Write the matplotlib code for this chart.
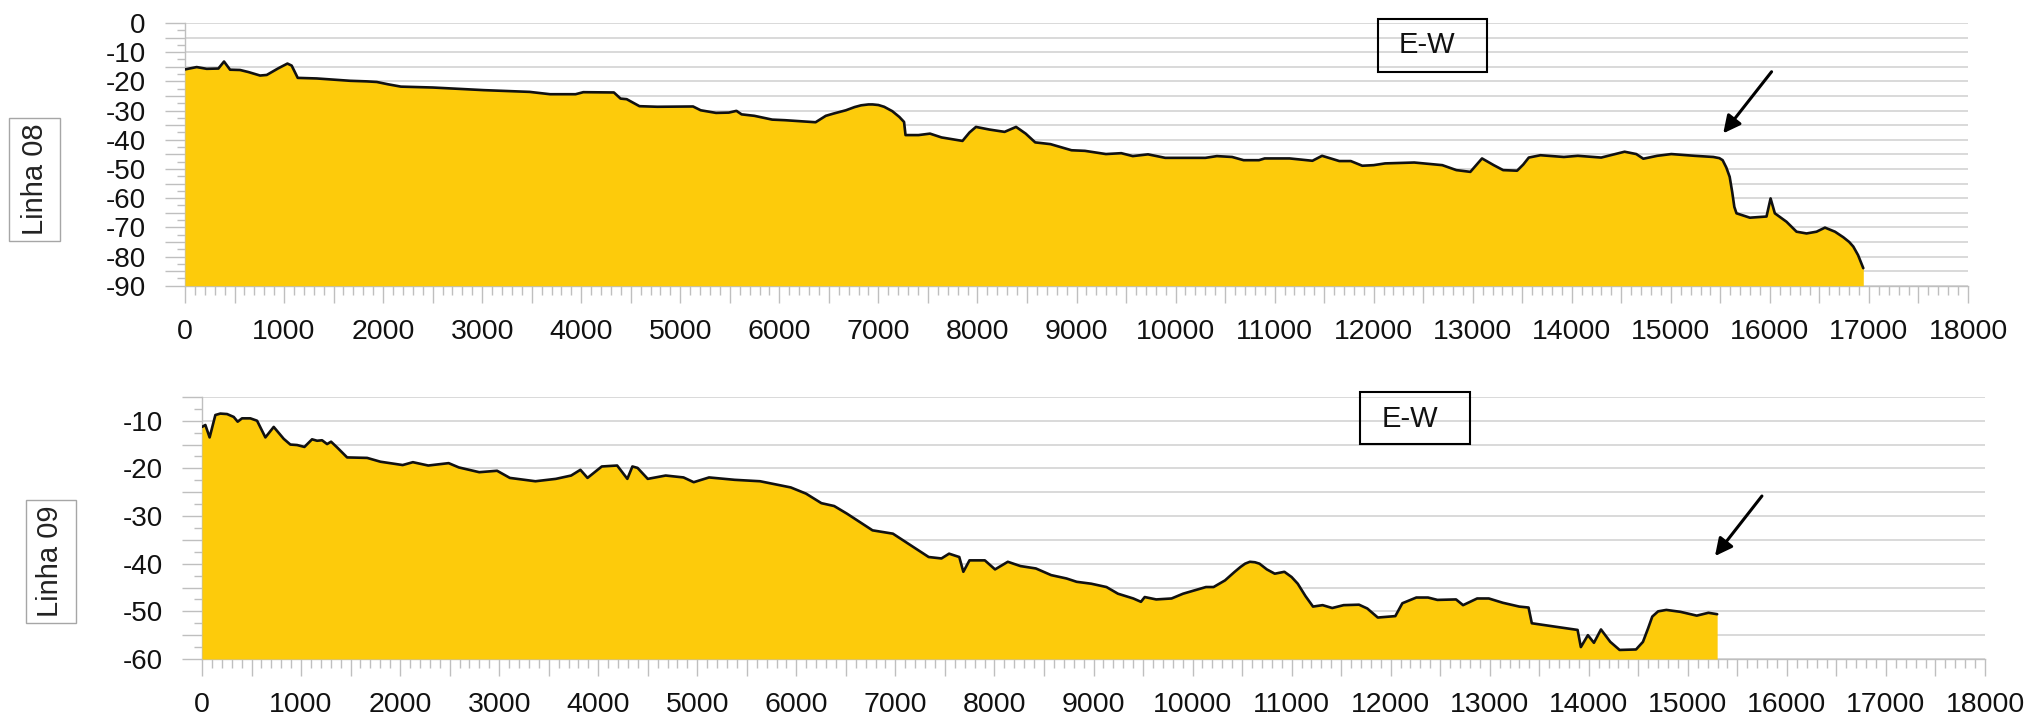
import matplotlib
matplotlib.use("Agg")
import matplotlib.pyplot as plt
from matplotlib.ticker import MultipleLocator, FuncFormatter
from matplotlib.patches import Rectangle

plt.rcParams['font.family'] = ['Liberation Sans', 'DejaVu Sans']
plt.rcParams['axes.unicode_minus'] = False

# ---------------- data ----------------
dist_08 = [0, 118, 219, 337, 394, 455, 556, 640, 758, 825, 943, 1034, 1077, 1138, 1330, 1498,
           1667, 1835, 1936, 2050, 2180, 2500, 3016, 3479, 3686, 3943, 4021, 4330, 4397, 4459,
           4588, 4768, 5129, 5206, 5361, 5490, 5567, 5619, 5748, 5928, 6057, 6366, 6469, 6550,
           6672, 6760, 6826, 6900, 6942, 7000, 7058, 7140, 7212, 7259, 7274, 7405, 7521, 7637,
           7849, 7920, 7985, 8120, 8274, 8390, 8487, 8583, 8737, 8950, 9085, 9297, 9452, 9568,
           9722, 9896, 10301, 10417, 10571, 10687, 10842, 10900, 11151, 11382, 11479, 11653,
           11769, 11885, 12000, 12116, 12410, 12693, 12835, 12976, 13040, 13094, 13212, 13307,
           13448, 13510, 13566, 13684, 13920, 14061, 14297, 14533, 14651, 14722, 14863, 15005,
           15240, 15429, 15490, 15523, 15560, 15594, 15620, 15641, 15663, 15798, 15966, 16007,
           16050, 16168, 16269, 16370, 16471, 16556, 16657, 16741, 16800, 16842, 16890, 16943]
depth_08 = [-15.9, -15.1, -15.7, -15.6, -13.2, -16.0, -16.1, -16.8, -18.0, -17.8, -15.5, -13.9,
            -14.6, -18.8, -19.0, -19.4, -19.8, -20.0, -20.2, -21.0, -21.8, -22.1, -23.0, -23.6,
            -24.4, -24.4, -23.7, -23.8, -25.9, -26.1, -28.5, -28.7, -28.6, -29.9, -30.8, -30.7,
            -30.1, -31.3, -31.8, -33.1, -33.3, -34.0, -31.8, -31.0, -29.9, -28.8, -28.2, -27.9,
            -27.9, -28.1, -28.7, -30.2, -32.2, -33.9, -38.4, -38.4, -37.9, -39.2, -40.4, -37.5,
            -35.6, -36.5, -37.3, -35.6, -37.9, -40.9, -41.5, -43.6, -43.8, -44.9, -44.6, -45.6,
            -45.0, -46.2, -46.2, -45.6, -45.9, -47.0, -47.0, -46.4, -46.4, -47.2, -45.5, -47.3,
            -47.3, -48.9, -48.7, -48.1, -47.8, -48.7, -50.4, -51.0, -48.5, -46.4, -48.7, -50.4,
            -50.6, -48.5, -46.1, -45.3, -45.9, -45.5, -46.1, -44.1, -44.9, -46.5, -45.5, -44.9,
            -45.5, -45.9, -46.3, -47.0, -49.5, -52.7, -58.0, -63.0, -65.2, -66.7, -66.3, -60.1,
            -65.2, -68.1, -71.5, -72.1, -71.5, -70.1, -71.5, -73.4, -75.0, -76.6, -79.5, -84.0]

dist_09 = [0, 34, 77, 135, 185, 253, 320, 360, 404, 488, 556, 640, 724, 825, 892, 960, 1034,
           1111, 1162, 1212, 1263, 1303, 1364, 1465, 1667, 1801, 2026, 2129, 2284, 2490, 2593,
           2799, 2979, 3108, 3366, 3572, 3727, 3820, 3892, 4036, 4191, 4294, 4345, 4397, 4500,
           4681, 4861, 4964, 5119, 5377, 5634, 5944, 6098, 6253, 6382, 6511, 6769, 6975, 7181,
           7336, 7465, 7542, 7645, 7686, 7748, 7903, 8006, 8135, 8263, 8418, 8573, 8727, 8830,
           8977, 9131, 9247, 9402, 9479, 9517, 9633, 9788, 9904, 10020, 10135, 10212, 10328,
           10420, 10483, 10530, 10579, 10630, 10676, 10750, 10830, 10927, 11000, 11062, 11140,
           11216, 11313, 11410, 11525, 11680, 11764, 11870, 12047, 12118, 12259, 12377, 12472,
           12660, 12731, 12873, 12991, 13132, 13298, 13392, 13425, 13887, 13920, 13991, 14052,
           14123, 14217, 14311, 14477, 14547, 14600, 14641, 14700, 14783, 14925, 15090, 15208,
           15296]
depth_09 = [-11.3, -10.9, -13.5, -8.8, -8.5, -8.6, -9.2, -10.2, -9.5, -9.5, -10.0, -13.5, -11.3,
            -13.8, -15.0, -15.1, -15.5, -13.9, -14.2, -14.1, -14.9, -14.4, -15.6, -17.7, -17.8,
            -18.6, -19.3, -18.7, -19.4, -18.9, -19.8, -20.8, -20.5, -22.0, -22.7, -22.2, -21.5,
            -20.3, -22.0, -19.6, -19.4, -22.2, -19.6, -19.9, -22.2, -21.5, -21.9, -22.9, -21.9,
            -22.4, -22.7, -24.0, -25.3, -27.3, -27.9, -29.5, -33.0, -33.7, -36.5, -38.6, -38.9,
            -37.9, -38.6, -41.7, -39.3, -39.3, -41.2, -39.6, -40.5, -41.0, -42.4, -43.1, -43.8,
            -44.2, -44.9, -46.3, -47.3, -48.0, -47.0, -47.5, -47.3, -46.3, -45.6, -44.9, -44.9,
            -43.5, -41.8, -40.7, -40.0, -39.6, -39.7, -40.0, -41.2, -42.1, -41.7, -42.8, -44.2,
            -46.8, -49.0, -48.7, -49.3, -48.7, -48.6, -49.4, -51.3, -51.0, -48.3, -47.1, -47.1,
            -47.6, -47.5, -48.7, -47.3, -47.3, -48.2, -49.0, -49.2, -52.5, -53.9, -57.5, -55.0,
            -56.6, -53.8, -56.4, -58.1, -58.0, -56.4, -53.5, -51.1, -50.0, -49.7, -50.1, -50.9,
            -50.3, -50.6]

line_labels = ["Linha 08", "Linha 09"]
box_text = "E-W"
ylims = [(-90, 0), (-60, -5)]
arrow_tips = [(15529, -37.8), (15274, -38.4)]
arrow_tails = [(16017, -16.7), (15748, -25.8)]

# ---------------- style ----------------
W, H = 2035, 726
FILL = '#FDCB0B'
GRID = '#d9d9d9'
AXC = '#bfbfbf'

fig = plt.figure(figsize=(W / 100, H / 100), dpi=100)

def frac_rect(left, top, right, bottom):
    return [left / W, 1 - bottom / H, (right - left) / W, (bottom - top) / H]

ax_specs = [frac_rect(185, 23, 1968, 285.7), frac_rect(202, 396.9, 1985, 659)]
axes = [fig.add_axes(r) for r in ax_specs]

data = [(dist_08, depth_08), (dist_09, depth_09)]
# box (axes fraction): x0, x1, y0, y1, text x, text y
ew_boxes = [(0.6691, 0.7302, 0.8135, 1.0152, 0.6966, 0.9144),
            (0.6495, 0.7112, 0.8203, 1.0187, 0.6775, 0.9157)]

for i, ax in enumerate(axes):
    xs, ys = data[i]
    lo, hi = ylims[i]
    ax.set_xlim(0, 18000)
    ax.set_ylim(lo, hi)
    ax.fill_between(xs, ys, lo, color=FILL, lw=0, zorder=3)
    ax.plot(xs, ys, color='#111111', lw=1.9, zorder=4,
            solid_joinstyle='round', solid_capstyle='round')

    ax.yaxis.set_major_locator(MultipleLocator(5))
    ax.yaxis.set_minor_locator(MultipleLocator(2.5))
    ax.xaxis.set_major_locator(MultipleLocator(500))
    ax.xaxis.set_minor_locator(MultipleLocator(100))
    ax.yaxis.set_major_formatter(FuncFormatter(
        lambda v, p: f"{int(round(v))}" if abs(round(v) % 10) < 1e-6 else ""))
    ax.xaxis.set_major_formatter(FuncFormatter(
        lambda v, p: f"{int(round(v))}" if abs(round(v) % 1000) < 1e-6 else ""))

    ax.grid(axis='y', which='major', color=GRID, lw=1.4, zorder=0.5)
    ax.set_axisbelow(True)
    for s in ['top', 'right']:
        ax.spines[s].set_visible(False)
    for s in ['left', 'bottom']:
        ax.spines[s].set_color(AXC)
        ax.spines[s].set_linewidth(1.0)
        ax.spines[s].set_zorder(2)

    ax.tick_params(axis='y', which='major', length=14.4, width=1, color=AXC,
                   labelsize=20, pad=14, labelcolor='#111111')
    ax.tick_params(axis='y', which='minor', length=6, width=1, color=AXC)
    ax.tick_params(axis='x', which='major', length=12, width=1, color=AXC,
                   labelsize=20.5, pad=12, labelcolor='#111111')
    ax.tick_params(axis='x', which='minor', length=6.5, width=1, color=AXC)

    # E-W box
    x0, x1, y0, y1, tx, ty = ew_boxes[i]
    ax.add_patch(Rectangle((x0, y0), x1 - x0, y1 - y0, transform=ax.transAxes,
                           fill=False, edgecolor='black', lw=1.5, clip_on=False, zorder=6))
    ax.text(tx, ty, box_text, transform=ax.transAxes, ha='center', va='center',
            fontsize=21, color='#111111', zorder=7)

    # arrow
    ax.annotate('', xy=arrow_tips[i], xytext=arrow_tails[i],
                arrowprops=dict(arrowstyle='-|>', color='black', lw=2.2,
                                mutation_scale=26, shrinkA=0, shrinkB=0),
                zorder=6, annotation_clip=False)

# Line labels with gray boxes (figure pixels)
label_boxes = [(9.3, 118, 60, 241, 35, 179), (26, 500, 76, 623, 50.5, 561)]
for (l, t, r, b, cx, cy), name in zip(label_boxes, line_labels):
    fig.add_artist(Rectangle((l / W, 1 - b / H), (r - l) / W, (b - t) / H,
                             transform=fig.transFigure, fill=False,
                             edgecolor='#a6a6a6', lw=1.0))
    fig.text(cx / W, 1 - cy / H, name, rotation=90, ha='center', va='center',
             fontsize=21, color='#222222')

fig.savefig('out.png', dpi=100)
